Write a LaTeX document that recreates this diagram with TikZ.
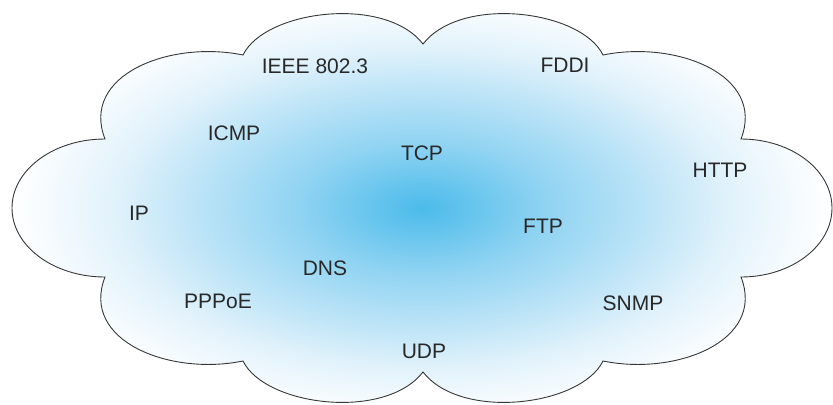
\documentclass[tikz,border=0pt]{standalone}
\usepackage{fontspec}
\setmainfont{Liberation Sans}
\definecolor{cloudc}{RGB}{75,187,234}
\definecolor{cloudb}{RGB}{143,211,242}
\definecolor{clouda}{RGB}{197,231,248}
\definecolor{cloudd}{RGB}{225,242,251}
\definecolor{txt}{RGB}{40,40,40}
\definecolor{edge}{RGB}{55,55,55}
\pgfdeclareradialshading{cloudshade}{\pgfpoint{0bp}{0bp}}{color(0bp)=(cloudc); color(7.5bp)=(cloudb); color(15bp)=(clouda); color(18.75bp)=(cloudd); color(25bp)=(white); color(50bp)=(white)}
\tikzset{
  proto/.style={anchor=base, inner sep=0pt, text=txt, font=\fontsize{21bp}{25bp}\selectfont},
  cloudline/.style={draw=edge, line width=0.9bp}
}
\begin{document}
\begin{tikzpicture}[x=1bp, y=-1bp]
\useasboundingbox (0,0) rectangle (833,404);
\def\cloudpath{(105,139) .. controls (80,75) and (170,40) .. (243,55)
  .. controls (265,10) and (385,-5) .. (423,44)
  .. controls (461,-5) and (581,10) .. (603,55)
  .. controls (676,40) and (766,75) .. (741,139)
  .. controls (791.3,139) and (832,169.9) .. (832,208)
  .. controls (832,246.1) and (791.3,277) .. (741,277)
  .. controls (766,341) and (676,376) .. (603,361)
  .. controls (581,406) and (461,421) .. (423,372)
  .. controls (385,421) and (265,406) .. (243,361)
  .. controls (170,376) and (80,341) .. (105,277)
  .. controls (53.6,277) and (12,246.1) .. (12,208)
  .. controls (12,169.9) and (53.6,139) .. (105,139) -- cycle}
\shade[shading=cloudshade] \cloudpath;
\path[cloudline, line join=miter] \cloudpath;
\node[proto] (ieee) at (315,73) {IEEE 802.3};
\node[proto] (fddi) at (565,72) {FDDI};
\node[proto] (icmp) at (234,140) {ICMP};
\node[proto] (tcp) at (422,160) {TCP};
\node[proto] (http) at (720,177) {HTTP};
\node[proto] (ip) at (139,220) {IP};
\node[proto] (ftp) at (543,233) {FTP};
\node[proto] (dns) at (325,275) {DNS};
\node[proto] (pppoe) at (218,308) {PPPoE};
\node[proto] (snmp) at (633,310) {SNMP};
\node[proto] (udp) at (424,358) {UDP};
\end{tikzpicture}
\end{document}
